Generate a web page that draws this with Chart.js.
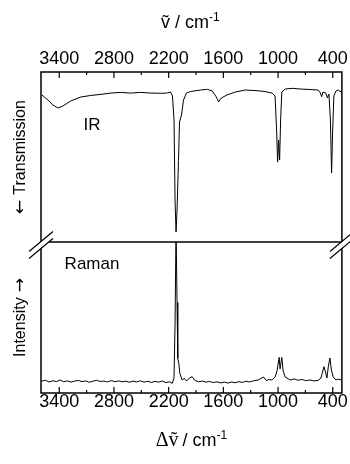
<!DOCTYPE html>
<html>
<head>
<meta charset="utf-8">
<script src="https://cdn.jsdelivr.net/npm/chart.js@4/dist/chart.umd.min.js"></script>
<style>
  html, body { margin: 0; padding: 0; background: #fff; }
  canvas { display: block; }
</style>
</head>
<body>
<canvas id="chart" width="350" height="464"></canvas>
<script>
// wavenumber ticks (cm-1)
const majorTicks = [3400, 2800, 2200, 1600, 1000, 400];
const minorTicks = [3100, 2500, 1900, 1300, 700];

// IR transmission trace (arbitrary %)
const irWave = [3589, 3524, 3469, 3414, 3360, 3272, 3163, 3054, 2933, 2835, 2726, 2617, 2507, 2398, 2289, 2223, 2180, 2158, 2141, 2130, 2119, 2108, 2092, 2081, 2059, 2037, 2005, 1961, 1852, 1775, 1721, 1677, 1652, 1622, 1560, 1469, 1360, 1232, 1142, 1066, 1033, 1016, 1005, 994, 983, 972, 959, 923, 836, 759, 650, 562, 541, 522, 508, 475, 459, 442, 426, 413, 401, 388, 366, 341, 306];
const irTrans = [86.5, 83.5, 80.6, 78.8, 80.0, 83.0, 85.3, 86.2, 86.9, 87.6, 88.0, 87.6, 88.0, 87.6, 87.5, 87.6, 88.2, 85.9, 71.8, 24.7, 5.9, 18.8, 48.0, 70.6, 74.7, 83.5, 87.6, 88.5, 89.4, 89.8, 88.8, 85.3, 82.5, 84.7, 86.5, 88.2, 89.4, 89.0, 88.5, 87.6, 85.9, 65.9, 47.0, 60.0, 48.2, 71.8, 88.2, 90.0, 90.4, 90.0, 89.7, 89.4, 88.2, 85.5, 88.2, 87.6, 84.7, 87.0, 71.8, 40.6, 65.9, 85.9, 88.8, 89.4, 88.2];

// Raman intensity trace (arbitrary, peak at ~2120 runs off the panel)
const ramanShift = [3590, 3550, 3510, 3470, 3430, 3390, 3350, 3310, 3270, 3230, 3190, 3150, 3110, 3070, 3030, 2990, 2950, 2910, 2870, 2830, 2790, 2750, 2710, 2670, 2630, 2590, 2550, 2510, 2470, 2430, 2390, 2350, 2310, 2270, 2230, 2190, 2160, 2141, 2130, 2119, 2108, 2100, 2087, 2078, 2052, 2027, 2005, 1972, 1942, 1917, 1874, 1830, 1790, 1750, 1710, 1670, 1630, 1590, 1550, 1510, 1470, 1430, 1390, 1350, 1310, 1270, 1218, 1160, 1130, 1095, 1065, 1032, 1010, 988, 978, 959, 945, 923, 868, 820, 780, 740, 700, 650, 610, 562, 530, 497, 480, 464, 448, 431, 415, 395, 366, 340, 306];
const ramanInt = [7.9, 8.4, 7.3, 8.1, 7.6, 8.6, 7.4, 8.0, 7.2, 7.9, 8.3, 7.5, 8.0, 7.1, 7.8, 8.4, 7.6, 7.9, 7.3, 8.2, 7.5, 8.0, 7.4, 7.8, 7.1, 7.9, 7.3, 8.1, 7.2, 7.8, 7.0, 7.7, 7.2, 7.9, 6.9, 7.4, 6.4, 10, 45, 110, 60, 23, 19, 13.2, 8.6, 9.6, 7.9, 9.9, 10.8, 8.6, 7.4, 7.9, 7.2, 7.6, 6.9, 7.4, 6.7, 7.2, 6.6, 7.3, 6.8, 7.5, 7.0, 7.8, 7.3, 8.1, 8.6, 10.6, 8.3, 8.9, 8.6, 10.6, 15, 23.6, 16, 23.6, 15, 10.6, 8.6, 9.3, 8.4, 9.0, 8.2, 8.6, 8.0, 8.3, 9.9, 17.4, 13.9, 9.9, 17.9, 23.2, 15.2, 10.6, 8.6, 9.2, 8.6];

const fontFam = "'Liberation Sans', Arial, sans-serif";
const sans = s => s + 'px ' + fontFam;
const arrowFont = "17px 'DejaVu Sans', sans-serif";

// draws a row of text pieces centred on cx, baseline at y (rotated if rot set)
function drawRun(ctx, segs, cx, y, rot) {
    ctx.save();
    ctx.translate(cx, y);
    if (rot) ctx.rotate(rot);
    let total = 0;
    segs.forEach(s => {
        ctx.font = s.font;
        s.w = ctx.measureText(s.t).width;
        total += s.w + (s.gap || 0);
    });
    let x = -total / 2;
    ctx.textAlign = 'left';
    ctx.textBaseline = 'alphabetic';
    segs.forEach(s => {
        ctx.font = s.font;
        ctx.fillText(s.t, x, s.dy || 0);
        x += s.w + (s.gap || 0);
    });
    ctx.restore();
}

const frame = {
    id: 'frame',
    afterDatasetsDraw(chart) {
        const ctx = chart.ctx;
        const a = chart.chartArea;
        const x = chart.scales.x;
        const yIR = chart.scales.yIR;
        const yR = chart.scales.yR;
        const mid = yIR.bottom;
        ctx.save();
        ctx.strokeStyle = '#000';
        ctx.lineWidth = 1.5;
        ctx.strokeRect(a.left, a.top, a.right - a.left, a.bottom - a.top);
        ctx.beginPath();
        ctx.moveTo(a.left, mid);
        ctx.lineTo(a.right, mid);
        ctx.stroke();

        // inner tick marks on top and bottom
        ctx.lineWidth = 1.2;
        const ticks = (vals, len) => {
            vals.forEach(v => {
                const px = x.getPixelForValue(v);
                ctx.beginPath();
                ctx.moveTo(px, a.top);
                ctx.lineTo(px, a.top + len);
                ctx.moveTo(px, a.bottom);
                ctx.lineTo(px, a.bottom - len);
                ctx.stroke();
            });
        };
        ticks(majorTicks, 6);
        ticks(minorTicks, 3);

        // axis break marks
        [a.left, a.right].forEach(bx => {
            const by = mid + 3;
            ctx.strokeStyle = '#fff';
            ctx.lineWidth = 5;
            ctx.beginPath();
            ctx.moveTo(bx - 11, by + 9);
            ctx.lineTo(bx + 11, by - 9);
            ctx.stroke();
            ctx.strokeStyle = '#000';
            ctx.lineWidth = 1.2;
            [-3.5, 3.5].forEach(d => {
                ctx.beginPath();
                ctx.moveTo(bx - 12, by + 10 + d);
                ctx.lineTo(bx + 12, by - 10 + d);
                ctx.stroke();
            });
        });

        ctx.fillStyle = '#000';
        ctx.font = sans(17);
        ctx.textAlign = 'center';
        ctx.textBaseline = 'middle';
        ctx.fillText('IR', 92, 125);
        ctx.fillText('Raman', 92, 264);

        // axis titles
        const cx = (a.left + a.right) / 2;
        drawRun(ctx, [
            { t: 'ṽ / cm', font: sans(18) },
            { t: '-1', font: sans(12), dy: -7 }
        ], cx - 1, 28);
        drawRun(ctx, [
            { t: 'Δṽ', font: "20px 'Liberation Serif', serif", gap: 4 },
            { t: '/ cm', font: sans(18) },
            { t: '-1', font: sans(12), dy: -7 }
        ], cx, 446);
        drawRun(ctx, [
            { t: '←', font: arrowFont, gap: 5 },
            { t: 'Transmission', font: sans(16) }
        ], 25, (yIR.top + yIR.bottom) / 2, -Math.PI / 2);
        drawRun(ctx, [
            { t: 'Intensity', font: sans(16), gap: 5 },
            { t: '→', font: arrowFont }
        ], 25, (yR.top + yR.bottom) / 2, -Math.PI / 2);
        ctx.restore();
    }
};

const tickFont = { family: fontFam, size: 18 };
const setTicks = axis => { axis.ticks = majorTicks.map(v => ({ value: v })); };

new Chart(document.getElementById('chart'), {
    type: 'line',
    data: {
        datasets: [
            {
                label: 'IR',
                data: irWave.map((w, i) => ({ x: w, y: irTrans[i] })),
                xAxisID: 'x',
                yAxisID: 'yIR',
                borderColor: '#000',
                borderWidth: 1,
                pointRadius: 0,
                tension: 0
            },
            {
                label: 'Raman',
                data: ramanShift.map((w, i) => ({ x: w, y: ramanInt[i] })),
                xAxisID: 'x',
                yAxisID: 'yR',
                borderColor: '#000',
                borderWidth: 1,
                pointRadius: 0,
                tension: 0
            }
        ]
    },
    options: {
        responsive: false,
        animation: false,
        devicePixelRatio: 1,
        layout: { padding: { left: 0, right: 7, top: 0, bottom: 0 } },
        plugins: { legend: { display: false }, tooltip: { enabled: false } },
        scales: {
            x: {
                type: 'linear',
                position: 'bottom',
                min: 300,
                max: 3600,
                reverse: true,
                afterBuildTicks: setTicks,
                afterFit: s => { s.height = 71; },
                grid: { display: false, drawTicks: false },
                border: { display: false },
                ticks: { color: '#000', font: tickFont, padding: -2, maxRotation: 0, autoSkip: false, callback: v => String(v) }
            },
            xTop: {
                type: 'linear',
                position: 'top',
                min: 300,
                max: 3600,
                reverse: true,
                afterBuildTicks: setTicks,
                afterFit: s => { s.height = 72; },
                grid: { display: false, drawTicks: false },
                border: { display: false },
                ticks: { color: '#000', font: tickFont, padding: 2, maxRotation: 0, autoSkip: false, callback: v => String(v) }
            },
            yR: {
                type: 'linear',
                position: 'left',
                stack: 'panels',
                stackWeight: 151,
                min: 0,
                max: 100,
                afterFit: s => { s.width = 41; },
                grid: { display: false, drawTicks: false },
                border: { display: false },
                ticks: { display: false }
            },
            yIR: {
                type: 'linear',
                position: 'left',
                stack: 'panels',
                stackWeight: 170,
                min: 0,
                max: 100,
                afterFit: s => { s.width = 41; },
                grid: { display: false, drawTicks: false },
                border: { display: false },
                ticks: { display: false }
            }
        }
    },
    plugins: [frame]
});
</script>
</body>
</html>
